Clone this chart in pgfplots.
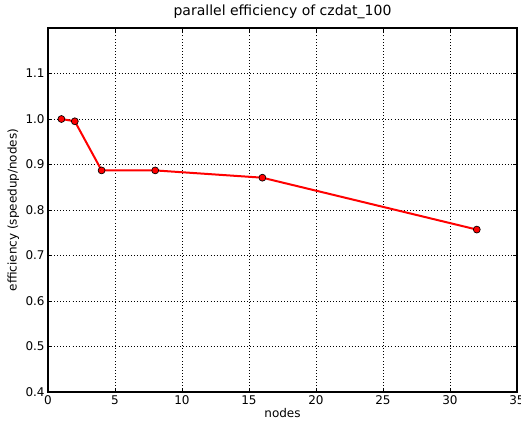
\documentclass[border=0pt]{standalone}
\usepackage{pgfplots}
\pgfplotsset{compat=1.18}
\usepackage{fontspec}
\setmainfont{DejaVu Sans}
\begin{document}
\begin{tikzpicture}[x=1pt,y=1pt]
\path[use as bounding box] (-36,-24.75) rectangle (354.75,294);
\begin{axis}[
  at={(0,0)}, anchor=south west,
  scale only axis, width=351.75pt, height=273pt,
  xmin=0, xmax=35, ymin=0.4, ymax=1.2,
  xtick={0,5,...,35}, ytick={0.4,0.5,0.6,0.7,0.8,0.9,1.0,1.1},
  yticklabel style={/pgf/number format/fixed,/pgf/number format/precision=1,/pgf/number format/fixed zerofill},
  /pgf/number format/assume math mode=true,
  tick align=inside, tick pos=both,
  major tick length=3pt,
  grid=major, grid style={black, dash pattern=on 0.6pt off 1.7pt, line width=0.6pt},
  axis line style={black, line width=0.8pt},
  tick style={black, line width=0.5pt},
  font=\fontsize{9}{11}\selectfont,
  ticklabel style={font=\fontsize{9}{11}\selectfont},
  title={parallel efficiency of czdat\_100},
  title style={font=\fontsize{10.5}{12}\selectfont, yshift=-3pt},
  xlabel={nodes}, ylabel={efficiency (speedup/nodes)},
  xlabel style={yshift=4pt},
  ylabel style={yshift=-2pt},
  xticklabel style={yshift=1pt},
  yticklabel style={xshift=1pt},
]
\addplot[red, line width=1.5pt, mark=*, mark size=2.6pt,
  mark options={fill=red, draw=black, line width=0.5pt}] coordinates {
  (1,1.000) (2,0.995) (4,0.887) (8,0.887) (16,0.871) (32,0.757)
};
\end{axis}
\end{tikzpicture}
\end{document}
